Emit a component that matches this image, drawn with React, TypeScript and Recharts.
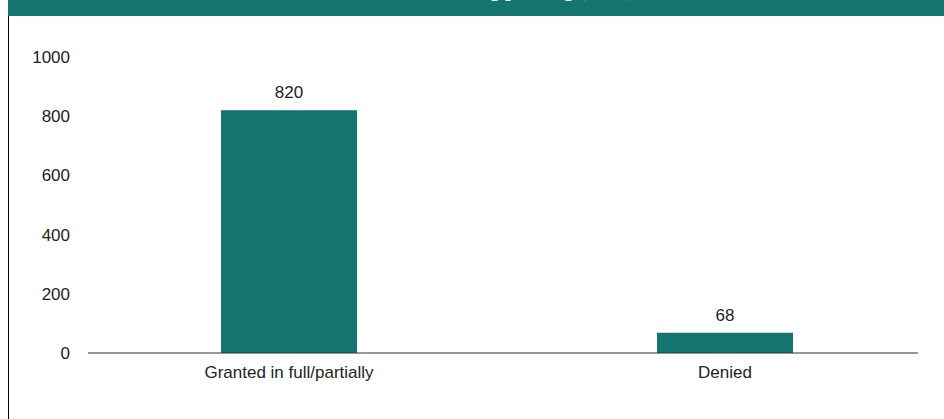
import { BarChart, Bar, XAxis, YAxis, LabelList } from 'recharts';

const categories = ['Granted in full/partially', 'Denied'];
const values = [820, 68];
const yTicks = [0, 200, 400, 600, 800, 1000];
const title = 'Outcome of handling pending (2019)';

const teal = '#137470';

export default function App() {
    const data = categories.map((name, i) => ({ name, value: values[i] }));

    return (
        <div style={{ position: 'absolute', left: 8, top: 0, width: 936, height: 419, fontFamily: '"Liberation Sans", Arial, sans-serif' }}>
            {/* header band, title is cut off at the top */}
            <div style={{ position: 'absolute', left: 0, top: 0, width: 936, height: 16, background: teal, overflow: 'hidden' }}>
                <div style={{ position: 'absolute', left: 0, top: -21, width: 936, textAlign: 'center', color: '#fff', fontFamily: '"Liberation Serif", serif', fontWeight: 'bold', fontSize: 20, lineHeight: '20px', whiteSpace: 'nowrap' }}>
                    {title}
                </div>
            </div>
            <div style={{ position: 'absolute', left: 0, top: 16, width: 1, height: 403, background: '#000' }} />
            <BarChart width={936} height={419} data={data} margin={{ top: 57, right: 26, bottom: 36, left: 0 }}>
                <XAxis
                    dataKey="name"
                    tickLine={false}
                    axisLine={{ stroke: '#333' }}
                    tick={{ fill: '#222', fontSize: 17 }}
                    tickMargin={7}
                    height={30}
                    padding={{ left: -17, right: -25 }}
                />
                <YAxis
                    domain={[0, 1000]}
                    ticks={yTicks}
                    axisLine={false}
                    tickLine={false}
                    tick={{ fill: '#222', fontSize: 17 }}
                    tickMargin={12}
                    width={80}
                />
                <Bar dataKey="value" fill={teal} barSize={136} isAnimationActive={false}>
                    <LabelList dataKey="value" position="top" offset={12} fill="#222" fontSize={17} />
                </Bar>
            </BarChart>
        </div>
    );
}
